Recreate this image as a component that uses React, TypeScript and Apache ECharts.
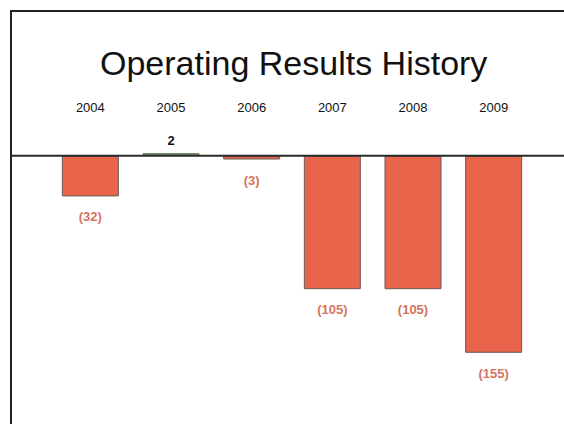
import React, { useEffect, useRef } from "react";
import * as echarts from "echarts";

const categories = ["2004", "2005", "2006", "2007", "2008", "2009"];
const values = [-32, 2, -3, -105, -105, -155];
const titleText = "Operating Results History";

const NEG_FILL = "#e8644a";
const NEG_BORDER = "#6b5a55";
const POS_FILL = "#8aa878";
const POS_BORDER = "#5d7356";
const NEG_LABEL = "#d6735e";
const FONT = "'Liberation Sans', Arial, sans-serif";

export default function App() {
  const ref = useRef<HTMLDivElement>(null);
  useEffect(() => {
    if (!ref.current) return;
    const chart = echarts.init(ref.current, undefined, { renderer: "svg" });
    const data = values.map((v) => ({
      value: v,
      itemStyle: {
        color: v < 0 ? NEG_FILL : POS_FILL,
        borderColor: v < 0 ? NEG_BORDER : POS_BORDER,
        borderWidth: 1,
      },
      label: {
        show: true,
        position: v < 0 ? "bottom" : "top",
        distance: v < 0 ? 14 : 6,
        color: v < 0 ? NEG_LABEL : "#111",
        fontWeight: "bold",
        fontSize: 13,
        fontFamily: FONT,
        formatter: v < 0 ? `(${-v})` : `${v}`,
      },
    }));
    chart.setOption({
      animation: false,
      backgroundColor: "#ffffff",
      title: {
        text: titleText,
        left: 95,
        top: 41,
        textStyle: {
          fontSize: 34,
          fontWeight: "normal",
          color: "#111",
          fontFamily: FONT,
        },
      },
      grid: { left: 50, right: 30, top: 143, height: 267 },
      xAxis: {
        type: "category",
        data: categories,
        position: "top",
        axisLine: { show: false, onZero: false },
        axisTick: { show: false },
        axisLabel: {
          margin: 29,
          fontSize: 13,
          color: "#111",
          fontFamily: FONT,
        },
        splitLine: { show: false },
      },
      yAxis: {
        type: "value",
        min: -200,
        max: 10,
        show: false,
        splitLine: { show: false },
      },
      series: [
        {
          type: "bar",
          data,
          barWidth: 57,
        },
      ],
    });
    const y0 = chart.convertToPixel({ yAxisIndex: 0 }, 0) as number;
    chart.setOption({
      graphic: [
        {
          type: "line",
          z: 100,
          shape: { x1: 10, y1: y0, x2: 564, y2: y0 },
          style: { stroke: "#2a2a2a", lineWidth: 2 },
        },
        {
          type: "line",
          z: 100,
          shape: { x1: 10, y1: 11, x2: 600, y2: 11 },
          style: { stroke: "#222", lineWidth: 2 },
        },
        {
          type: "line",
          z: 100,
          shape: { x1: 11, y1: 10, x2: 11, y2: 424 },
          style: { stroke: "#222", lineWidth: 2 },
        },
      ],
    });
    return () => chart.dispose();
  }, []);
  return (
    <div
      ref={ref}
      style={{ width: 564, height: 424, position: "fixed", left: 0, top: 0 }}
    />
  );
}
